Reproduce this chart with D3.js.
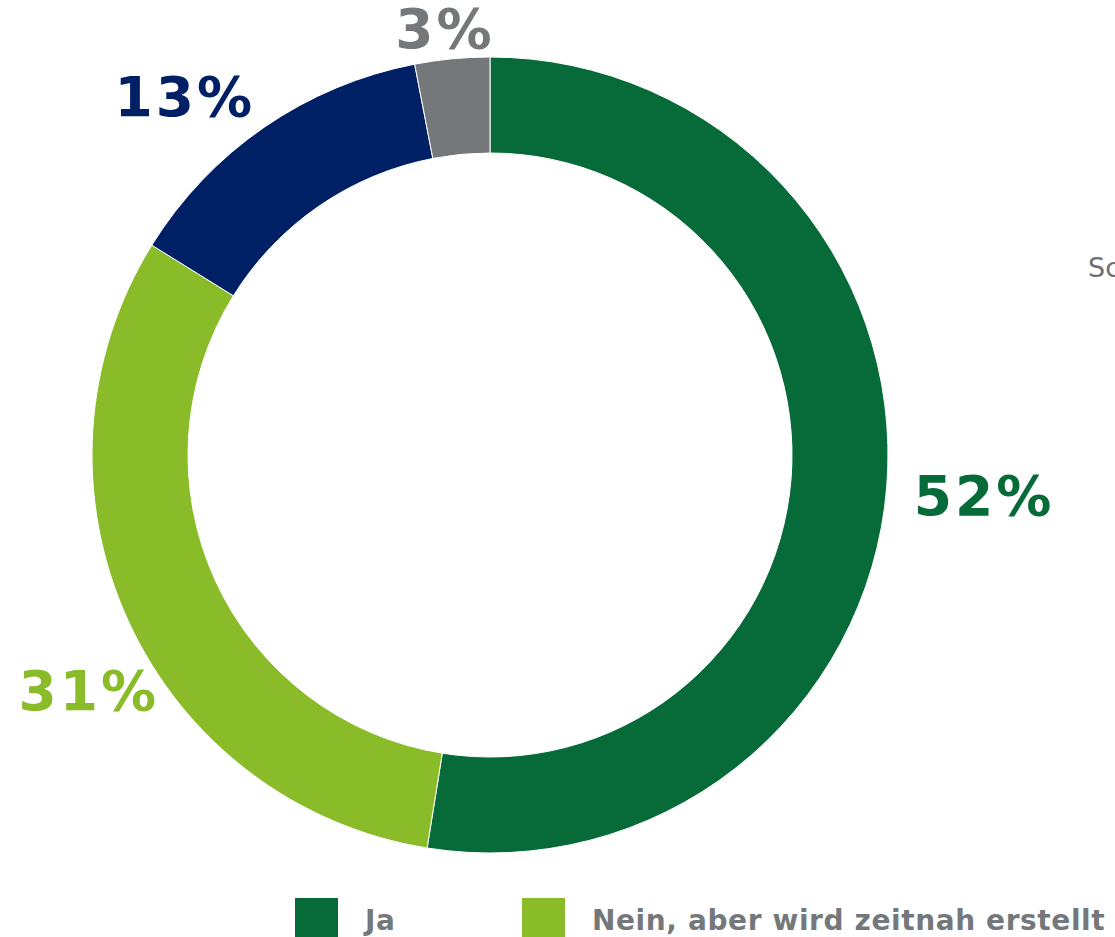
<!DOCTYPE html>
<html>
<head>
<meta charset="utf-8">
<script src="https://cdn.jsdelivr.net/npm/d3@7"></script>
<style>
  html, body { margin: 0; padding: 0; background: #ffffff; overflow: hidden; }
  svg { display: block; }
</style>
</head>
<body>
<div id="chart"></div>
<script>
// Survey answers and their shares (percent)
const categories = ["Ja", "Nein, aber wird zeitnah erstellt", "Nein", "Weiß nicht"];
const values = [52, 31, 13, 3];
const colors = ["#066b38", "#8abb28", "#002066", "#75787b"];
const sideNote = "Schutzkonzept";

const W = 1115, H = 937;
const cx = 490, cy = 455;
const outerR = 398, innerR = 302;
const labelR = 432;

const svg = d3.select("#chart").append("svg")
  .attr("width", W).attr("height", H);

const data = categories.map((c, i) => ({ name: c, value: values[i], color: colors[i] }));

const pie = d3.pie().sort(null).value(d => d.value);
const arcs = pie(data);

const arc = d3.arc().innerRadius(innerR).outerRadius(outerR);
const labelArc = d3.arc().innerRadius(labelR).outerRadius(labelR);

const g = svg.append("g").attr("transform", `translate(${cx},${cy})`);

g.selectAll("path.slice")
  .data(arcs)
  .enter().append("path")
  .attr("class", "slice")
  .attr("d", arc)
  .attr("fill", d => d.data.color)
  .attr("stroke", "#ffffff")
  .attr("stroke-width", 1);

// Percentage labels placed just outside each slice, with small placement tweaks
const labelFont = "'DejaVu Sans', Verdana, sans-serif";
const nudge = {
  "Ja": [-7, 7],
  "Nein, aber wird zeitnah erstellt": [62, 57],
  "Nein": [10, -2],
  "Weiß nicht": [-4, 4]
};

g.selectAll("text.pct")
  .data(arcs)
  .enter().append("text")
  .attr("class", "pct")
  .each(function (d) {
    const [x, y] = labelArc.centroid(d);
    const mid = (d.startAngle + d.endAngle) / 2;
    const s = Math.sin(mid);
    let anchor = "middle";
    if (s > 0.3) anchor = "start";
    else if (s < -0.3) anchor = "end";
    const n = nudge[d.data.name] || [0, 0];
    d3.select(this)
      .attr("x", x + n[0])
      .attr("y", y + n[1])
      .attr("text-anchor", anchor)
      .attr("dominant-baseline", "central");
  })
  .attr("font-family", labelFont)
  .attr("font-weight", "bold")
  .attr("font-size", 55)
  .attr("letter-spacing", 3)
  .attr("fill", d => d.data.color)
  .text(d => d.data.value + "%");

// Legend along the bottom
const legend = svg.append("g").attr("transform", "translate(295,898)");
let lx = 0;
data.forEach(d => {
  const item = legend.append("g").attr("transform", `translate(${lx},0)`);
  item.append("rect")
    .attr("width", 43).attr("height", 39)
    .attr("fill", d.color);
  const t = item.append("text")
    .attr("x", 70).attr("y", 32)
    .attr("font-family", labelFont)
    .attr("font-weight", "bold")
    .attr("font-size", 28)
    .attr("letter-spacing", 0.6)
    .attr("fill", "#75787b")
    .text(d.name);
  const w = t.node().getComputedTextLength();
  lx += Math.max(227, 70 + w + 90);
});

svg.append("text")
  .attr("x", 1088).attr("y", 277)
  .attr("font-family", labelFont)
  .attr("font-size", 27)
  .attr("fill", "#6d6e71")
  .text(sideNote);
</script>
</body>
</html>
